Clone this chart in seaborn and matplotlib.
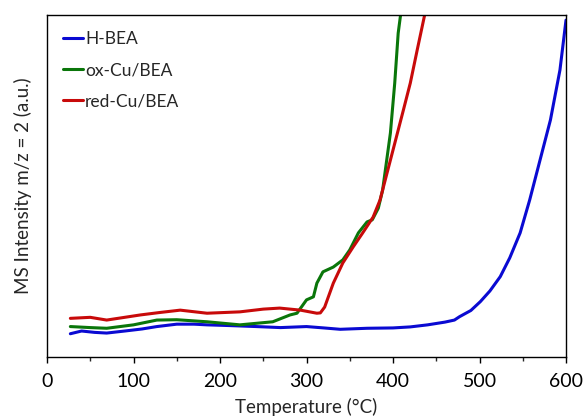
import matplotlib
matplotlib.use("Agg")
import matplotlib.pyplot as plt
import seaborn as sns
import pandas as pd
from matplotlib.ticker import MultipleLocator

# ---- data (arbitrary intensity units 0-100) ----
h_bea_T = [27, 40, 55, 69, 90, 110, 127, 150, 170, 185, 210, 242, 270, 300, 320, 339,
           370, 400, 420, 440, 460, 471, 477, 490, 501, 512, 524, 535, 547, 558, 570,
           582, 593, 600]
h_bea_I = [6.8, 7.6, 7.2, 7.0, 7.6, 8.2, 8.9, 9.6, 9.6, 9.4, 9.2, 8.9, 8.6, 8.9, 8.5, 8.1,
           8.4, 8.5, 8.8, 9.4, 10.2, 10.8, 11.8, 13.6, 16.2, 19.3, 23.5, 29.0, 36.3, 45.9, 57.6,
           69.3, 83.9, 98.5]

ox_T = [27, 50, 69, 100, 127, 150, 185, 223, 261, 281, 289, 300, 308, 312, 319, 331,
        342, 350, 360, 370, 376, 383, 388, 397, 402, 406, 409]
ox_I = [8.9, 8.6, 8.4, 9.4, 10.8, 10.9, 10.3, 9.4, 10.3, 12.3, 12.8, 16.7, 17.6, 21.6, 24.9, 26.3,
        28.4, 31.3, 36.3, 39.5, 40.1, 43.5, 48.8, 65.5, 80.1, 94.7, 100.5]

red_T = [27, 50, 69, 108, 130, 154, 185, 223, 250, 269, 293, 312, 316, 321, 331, 342,
         354, 365, 377, 385, 400, 412, 420, 428, 437]
red_I = [11.3, 11.6, 10.8, 12.3, 13.0, 13.7, 12.8, 13.2, 14.0, 14.3, 13.7, 12.8, 12.9, 14.6, 21.6, 27.5,
         32.2, 36.3, 40.9, 45.9, 60.5, 72.2, 80.1, 89.8, 100.5]

series_names = ["H-BEA", "ox-Cu/BEA", "red-Cu/BEA"]
series_colors = ["#0a0ad2", "#0a760a", "#c80a0a"]
x_ticks = [0, 100, 200, 300, 400, 500, 600]

df = pd.concat([
    pd.DataFrame({"T": h_bea_T, "I": h_bea_I, "s": series_names[0]}),
    pd.DataFrame({"T": ox_T, "I": ox_I, "s": series_names[1]}),
    pd.DataFrame({"T": red_T, "I": red_I, "s": series_names[2]}),
], ignore_index=True)

sns.set_style("white")
plt.rcParams["font.family"] = ["Lato", "DejaVu Sans"]

fig = plt.figure(figsize=(5.83, 4.2), dpi=100)
ax = fig.add_axes([47 / 583, 63 / 420, 519 / 583, 342 / 420])

sns.lineplot(data=df, x="T", y="I", hue="s", palette=dict(zip(series_names, series_colors)),
             estimator=None, sort=False, linewidth=2.2, ax=ax)

ax.set_xlim(0, 600)
ax.set_ylim(0, 100)
ax.set_xticks(x_ticks)
ax.set_xticklabels([str(t) for t in x_ticks])
ax.xaxis.set_minor_locator(MultipleLocator(50))
ax.set_yticks([])
ax.tick_params(axis="x", which="major", direction="out", length=4.5, width=1, bottom=True,
               labelsize=14, pad=7, colors="black")
ax.tick_params(axis="x", which="minor", direction="out", length=3.2, width=1, bottom=True)
for sp in ax.spines.values():
    sp.set_visible(True)
    sp.set_color("black")
    sp.set_linewidth(1.0)

ax.set_xlabel("Temperature (°C)", fontsize=13.5, labelpad=6)
ax.set_ylabel("MS Intensity m/z = 2 (a.u.)", fontsize=13.5, labelpad=11)

leg = ax.legend(loc="upper left", frameon=False, fontsize=12.5, handlelength=1.1,
                handletextpad=0.15, labelspacing=0.85, borderaxespad=0.55, title=None)
for line in leg.get_lines():
    line.set_linewidth(2.2)

fig.savefig("out.png", dpi=100)
